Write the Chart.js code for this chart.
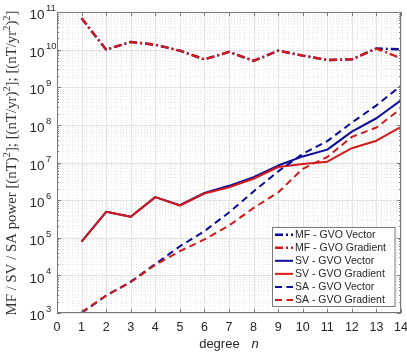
<!DOCTYPE html>
<html><head><meta charset="utf-8">
<script src="https://cdn.jsdelivr.net/npm/chart.js@4.4.0/dist/chart.umd.min.js"></script>
<style>html,body{margin:0;padding:0;background:#fff}#wrap{width:407px;height:354px}</style>
</head><body><div id="wrap"><canvas id="c" width="407" height="354"></canvas></div>
<script>
// ---------------- data ----------------
const degrees = [1,2,3,4,5,6,7,8,9,10,11,12,13,14];
const mfVector   = [6.8e10,1.0e10,1.6e10,1.35e10,9.4e9,5.5e9,8.7e9,5.0e9,9.4e9,6.9e9,5.3e9,5.5e9,1.07e10,1.02e10];
const mfGradient = [6.8e10,1.0e10,1.6e10,1.35e10,9.4e9,5.5e9,8.7e9,5.0e9,9.4e9,6.9e9,5.3e9,5.5e9,1.07e10,5.9e9];
const svVector   = [7.9e4,4.9e5,3.6e5,1.2e6,7.3e5,1.55e6,2.4e6,4.1e6,8.3e6,1.45e7,2.2e7,6.6e7,1.5e8,4.5e8];
const svGradient = [7.9e4,4.9e5,3.6e5,1.2e6,7.2e5,1.5e6,2.2e6,3.7e6,7.6e6,9.1e6,1.05e7,2.4e7,3.8e7,8.9e7];
const saVector   = [1.0e3,2.9e3,6.8e3,2.0e4,5.9e4,1.5e5,4.7e5,1.7e6,5.8e6,1.7e7,3.7e7,1.15e8,3.3e8,1.1e9];
const saGradient = [1.05e3,2.9e3,6.6e3,1.9e4,4.4e4,9.0e4,2.1e5,6.2e5,1.6e6,6.8e6,1.4e7,4.8e7,8.5e7,2.7e8];
const seriesNames = ['MF - GVO Vector','MF - GVO Gradient','SV - GVO Vector','SV - GVO Gradient','SA - GVO Vector','SA - GVO Gradient'];
const xTickLabels = ['0','1','2','3','4','5','6','7','8','9','10','11','12','13','14'];
const yTickExponents = ['3','4','5','6','7','8','9','10','11'];

// ---------------- styles ----------------
const BLUE = '#0c0c98', RED = '#d21a1a';
const seriesStyles = [
  {color: BLUE, dash: [8,3,2,3], width: 2.4},
  {color: RED,  dash: [8,3,2,3], width: 2.4},
  {color: BLUE, dash: [], width: 2},
  {color: RED,  dash: [], width: 2},
  {color: BLUE, dash: [7,4.5], width: 2},
  {color: RED,  dash: [7,4.5], width: 2}
];
const allSeries = [mfVector, mfGradient, svVector, svGradient, saVector, saGradient];

const datasets = allSeries.map((arr, i) => ({
  label: seriesNames[i],
  data: degrees.map((d, j) => ({x: d, y: arr[j]})),
  borderColor: seriesStyles[i].color,
  borderWidth: seriesStyles[i].width,
  borderDash: seriesStyles[i].dash,
  borderJoinStyle: 'round',
  pointRadius: 0,
  fill: false,
  tension: 0,
  order: 5 - i
}));

const AXIS_COLOR = '#7a7a7a';
const TEXT_COLOR = '#262626';

const matlabAxes = {
  id: 'matlabAxes',
  beforeDraw(chart) {
    const ctx = chart.ctx;
    ctx.save(); ctx.fillStyle = '#fff'; ctx.fillRect(0, 0, chart.width, chart.height); ctx.restore();
  },
  beforeDatasetsDraw(chart) {
    const {ctx, chartArea: a, scales: {x, y}} = chart;
    ctx.save();
    ctx.lineWidth = 1;
    // minor grid (dotted)
    ctx.strokeStyle = '#e8e8e8';
    ctx.setLineDash([1, 2]);
    ctx.beginPath();
    for (let k = 3; k < 11; k++) {
      for (let m = 2; m <= 9; m++) {
        const py = Math.round(y.getPixelForValue(m * Math.pow(10, k))) + 0.5;
        ctx.moveTo(a.left, py); ctx.lineTo(a.right, py);
      }
    }
    for (let t = 0; t < 14; t++) {
      for (let s = 1; s < 5; s++) {
        const px = Math.round(x.getPixelForValue(t + s * 0.2)) + 0.5;
        ctx.moveTo(px, a.top); ctx.lineTo(px, a.bottom);
      }
    }
    ctx.stroke();
    // major grid
    ctx.setLineDash([]);
    ctx.strokeStyle = '#e3e3e3';
    ctx.beginPath();
    yTickExponents.forEach(e => {
      const py = Math.round(y.getPixelForValue(Math.pow(10, +e))) + 0.5;
      ctx.moveTo(a.left, py); ctx.lineTo(a.right, py);
    });
    xTickLabels.forEach(l => {
      const px = Math.round(x.getPixelForValue(+l)) + 0.5;
      ctx.moveTo(px, a.top); ctx.lineTo(px, a.bottom);
    });
    ctx.stroke();
    ctx.restore();
  },
  afterDatasetsDraw(chart) {
    const {ctx, chartArea: a, scales: {x, y}} = chart;
    ctx.save();
    // box
    ctx.strokeStyle = AXIS_COLOR; ctx.lineWidth = 1; ctx.setLineDash([]);
    ctx.strokeRect(a.left + 0.5, a.top + 0.5, a.right - a.left - 1, a.bottom - a.top - 1);
    // ticks
    ctx.beginPath();
    xTickLabels.forEach(l => {
      const px = Math.round(x.getPixelForValue(+l)) + 0.5;
      ctx.moveTo(px, a.bottom); ctx.lineTo(px, a.bottom - 4);
      ctx.moveTo(px, a.top); ctx.lineTo(px, a.top + 4);
    });
    yTickExponents.forEach(e => {
      const py = Math.round(y.getPixelForValue(Math.pow(10, +e))) + 0.5;
      ctx.moveTo(a.left, py); ctx.lineTo(a.left + 4, py);
      ctx.moveTo(a.right, py); ctx.lineTo(a.right - 4, py);
    });
    for (let k = 3; k < 11; k++) {
      for (let m = 2; m <= 9; m++) {
        const py = Math.round(y.getPixelForValue(m * Math.pow(10, k))) + 0.5;
        ctx.moveTo(a.left, py); ctx.lineTo(a.left + 2, py);
        ctx.moveTo(a.right, py); ctx.lineTo(a.right - 2, py);
      }
    }
    ctx.stroke();

    // x tick labels
    ctx.fillStyle = TEXT_COLOR;
    ctx.font = '12.5px "Liberation Sans", Arial, sans-serif';
    ctx.textAlign = 'center'; ctx.textBaseline = 'alphabetic';
    xTickLabels.forEach(l => {
      ctx.fillText(l, x.getPixelForValue(+l), a.bottom + 17.5);
    });
    // y tick labels 10^k
    yTickExponents.forEach(e => {
      const py = y.getPixelForValue(Math.pow(10, +e));
      ctx.font = '13.5px "Liberation Sans", Arial, sans-serif';
      ctx.textAlign = 'right';
      ctx.fillText('10', a.left - 12.5, py + 7.2);
      ctx.font = '9.5px "Liberation Sans", Arial, sans-serif';
      ctx.textAlign = 'left';
      ctx.fillText(e, a.left - 11, py - 1);
    });

    // x axis title: "degree  n"
    const cx = (a.left + a.right) / 2;
    ctx.font = '13px "Liberation Sans", Arial, sans-serif';
    const w1 = ctx.measureText('degree').width;
    ctx.font = 'italic 13px "Liberation Sans", Arial, sans-serif';
    const w2 = ctx.measureText('n').width;
    const gap = 12;
    let sx = cx - (w1 + gap + w2) / 2;
    ctx.textAlign = 'left';
    ctx.font = '13px "Liberation Sans", Arial, sans-serif';
    ctx.fillText('degree', sx, a.bottom + 35);
    ctx.font = 'italic 13px "Liberation Sans", Arial, sans-serif';
    ctx.fillText('n', sx + w1 + gap, a.bottom + 35);

    // y axis title (rotated, with superscripts)
    const segs = [['MF / SV / SA power [(nT)',0],['2',1],[']; [(nT/yr)',0],['2',1],[']; [(nT/yr',0],['2',1],[')',0],['2',1],[']',0]];
    const target = 305;
    let fs = 13;
    const measure = (f) => {
      let w = 0;
      segs.forEach(s => { ctx.font = (s[1] ? f * 0.7 : f) + 'px "Liberation Serif", "DejaVu Serif", serif'; w += ctx.measureText(s[0]).width; });
      return w;
    };
    fs = fs * target / measure(fs);
    const total = measure(fs);
    ctx.save();
    ctx.fillStyle = '#333';
    ctx.translate(16, (a.top + a.bottom) / 2 + 0.5);
    ctx.rotate(-Math.PI / 2);
    let ox = -total / 2;
    segs.forEach(s => {
      ctx.font = (s[1] ? fs * 0.7 : fs) + 'px "Liberation Serif", "DejaVu Serif", serif';
      ctx.fillText(s[0], ox, s[1] ? -fs * 0.38 : 0);
      ox += ctx.measureText(s[0]).width;
    });
    ctx.restore();

    // legend box
    const lx = 272.5, ly = 227.5, lw = 122.5, lh = 79;
    ctx.fillStyle = '#fff';
    ctx.fillRect(lx, ly, lw, lh);
    ctx.strokeStyle = AXIS_COLOR; ctx.lineWidth = 1;
    ctx.strokeRect(lx, ly, lw, lh);
    ctx.font = '10.5px "Liberation Sans", Arial, sans-serif';
    ctx.textAlign = 'left'; ctx.textBaseline = 'middle';
    seriesNames.forEach((name, i) => {
      const ry = 234.7 + 13.05 * i;
      const st = seriesStyles[i];
      ctx.strokeStyle = st.color; ctx.lineWidth = st.width;
      ctx.setLineDash(st.dash);
      ctx.beginPath(); ctx.moveTo(275, ry); ctx.lineTo(293, ry); ctx.stroke();
      ctx.setLineDash([]);
      ctx.fillStyle = TEXT_COLOR;
      ctx.fillText(name, 295, ry + 0.5);
    });
    ctx.restore();
  }
};

new Chart(document.getElementById('c'), {
  type: 'line',
  data: {datasets},
  options: {
    responsive: false,
    animation: false,
    devicePixelRatio: 1,
    layout: {padding: {left: 57, right: 6, top: 12, bottom: 41}},
    plugins: {legend: {display: false}, tooltip: {enabled: false}},
    scales: {
      x: {type: 'linear', min: 0, max: 14, display: false},
      y: {type: 'logarithmic', min: 1e3, max: 1e11, display: false}
    }
  },
  plugins: [matlabAxes]
});
</script>
</body></html>
